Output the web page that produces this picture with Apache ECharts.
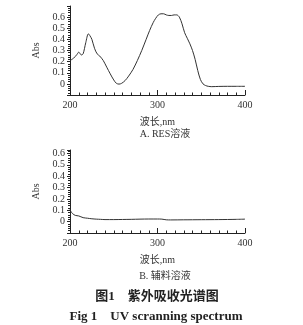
<!DOCTYPE html>
<html>
<head>
<meta charset="utf-8">
<title>UV scanning spectrum</title>
<script src="https://cdn.jsdelivr.net/npm/echarts@6/dist/echarts.min.js"></script>
<style>
  html, body { margin: 0; padding: 0; background: #fff; }
  #main { width: 303px; height: 325px; }
</style>
</head>
<body>
<div id="main"></div>
<script>
// 波长 / 吸光度
var wlA = [200,204,208,210,213,215,218,221,223,225,228,231,234,238,242,246,250,253,256,259,263,267,272,277,282,287,291,295,298,301,304,307,310,313,316,319,322,325,328,331,334,337,340,343,346,349,352,355,358,362,370,380,390,400];
var absA = [0.21,0.23,0.265,0.285,0.26,0.27,0.37,0.45,0.43,0.40,0.32,0.27,0.25,0.21,0.15,0.09,0.035,0.005,-0.002,0.005,0.03,0.07,0.13,0.21,0.30,0.40,0.48,0.55,0.59,0.62,0.63,0.63,0.62,0.615,0.615,0.62,0.62,0.60,0.54,0.46,0.41,0.36,0.30,0.22,0.12,0.04,0.0,-0.015,-0.022,-0.025,-0.023,-0.022,-0.022,-0.022];

var wlB = [200,201,203,206,210,215,220,225,230,235,240,250,260,270,280,290,300,305,310,315,330,350,370,390,400];
var absB = [0.11,0.09,0.07,0.055,0.05,0.035,0.03,0.025,0.022,0.02,0.018,0.018,0.019,0.02,0.022,0.023,0.023,0.022,0.016,0.015,0.016,0.017,0.018,0.02,0.022];

var yTicks = [0, 0.1, 0.2, 0.3, 0.4, 0.5, 0.6];
var xName = '波长,nm';
var yName = 'Abs';
var captions = ['A. RES溶液', 'B. 辅料溶液'];
var figTitle = '图1　紫外吸收光谱图';
var figTitleEn = 'Fig 1　UV scranning spectrum';

// 拉丁字符走衬线体，汉字回落到 Noto CJK
var serif = '"Liberation Serif", "Noto Sans CJK SC", serif';
var cjk = '"Noto Sans CJK SC", sans-serif';

function pairs(xs, ys) {
    var out = [];
    for (var i = 0; i < xs.length; i++) out.push([xs[i], ys[i]]);
    return out;
}

function xAx(idx) {
    return {
        type: 'value', gridIndex: idx, min: 200, max: 400, interval: 100,
        name: xName, nameLocation: 'middle', nameGap: 22,
        nameTextStyle: { fontFamily: serif, fontSize: 10, color: '#333' },
        axisLine: { onZero: false, lineStyle: { color: '#222', width: 1 } },
        axisTick: { inside: true, length: 5, lineStyle: { color: '#222' } },
        minorTick: { show: true, splitNumber: 10, length: 2.5, lineStyle: { color: '#222' } },
        axisLabel: { margin: 5, fontFamily: serif, fontSize: 10, color: '#333' },
        splitLine: { show: false }
    };
}

function yAx(idx, max) {
    return {
        type: 'value', gridIndex: idx, min: -0.1, max: max, interval: 0.1,
        name: yName, nameLocation: 'middle', nameGap: 19, nameRotate: 90,
        nameTextStyle: { fontFamily: serif, fontSize: 10, color: '#333' },
        axisLine: { show: true, onZero: false, lineStyle: { color: '#222', width: 1 } },
        axisTick: { show: true, length: 3, lineStyle: { color: '#222' } },
        minorTick: { show: true, splitNumber: 5, length: 2, lineStyle: { color: '#222' } },
        axisLabel: {
            margin: 5, fontFamily: serif, fontSize: 10, color: '#333',
            formatter: function (v) {
                var r = Math.round(v * 10) / 10;
                return yTicks.indexOf(r) >= 0 && Math.abs(v - r) < 1e-6 ? String(r) : '';
            }
        },
        splitLine: { show: false }
    };
}

var chart = echarts.init(document.getElementById('main'), null, { renderer: 'canvas' });
chart.setOption({
    animation: false,
    backgroundColor: '#fff',
    grid: [
        { left: 70, top: 6, width: 175, height: 89 },
        { left: 70, top: 150, width: 175, height: 83 }
    ],
    xAxis: [xAx(0), xAx(1)],
    yAxis: [yAx(0, 0.7), yAx(1, 0.63)],
    title: [
        { text: captions[0], left: 160, top: 124, textAlign: 'center',
          textStyle: { fontFamily: serif, fontSize: 10, fontWeight: 'normal', color: '#333' } },
        { text: captions[1], left: 160, top: 266, textAlign: 'center',
          textStyle: { fontFamily: serif, fontSize: 10, fontWeight: 'normal', color: '#333' } },
        { text: figTitle, left: 152, top: 285, textAlign: 'center',
          textStyle: { fontFamily: serif, fontSize: 13, fontWeight: 'bold', color: '#222' } },
        { text: figTitleEn, left: 151, top: 305, textAlign: 'center',
          textStyle: { fontFamily: serif, fontSize: 13, fontWeight: 'bold', color: '#222' } }
    ],
    series: [
        { type: 'line', xAxisIndex: 0, yAxisIndex: 0, data: pairs(wlA, absA),
          showSymbol: false, smooth: 0.3, lineStyle: { color: '#333', width: 1 } },
        { type: 'line', xAxisIndex: 1, yAxisIndex: 1, data: pairs(wlB, absB),
          showSymbol: false, smooth: 0.3, lineStyle: { color: '#333', width: 1 } }
    ]
});
</script>
</body>
</html>
